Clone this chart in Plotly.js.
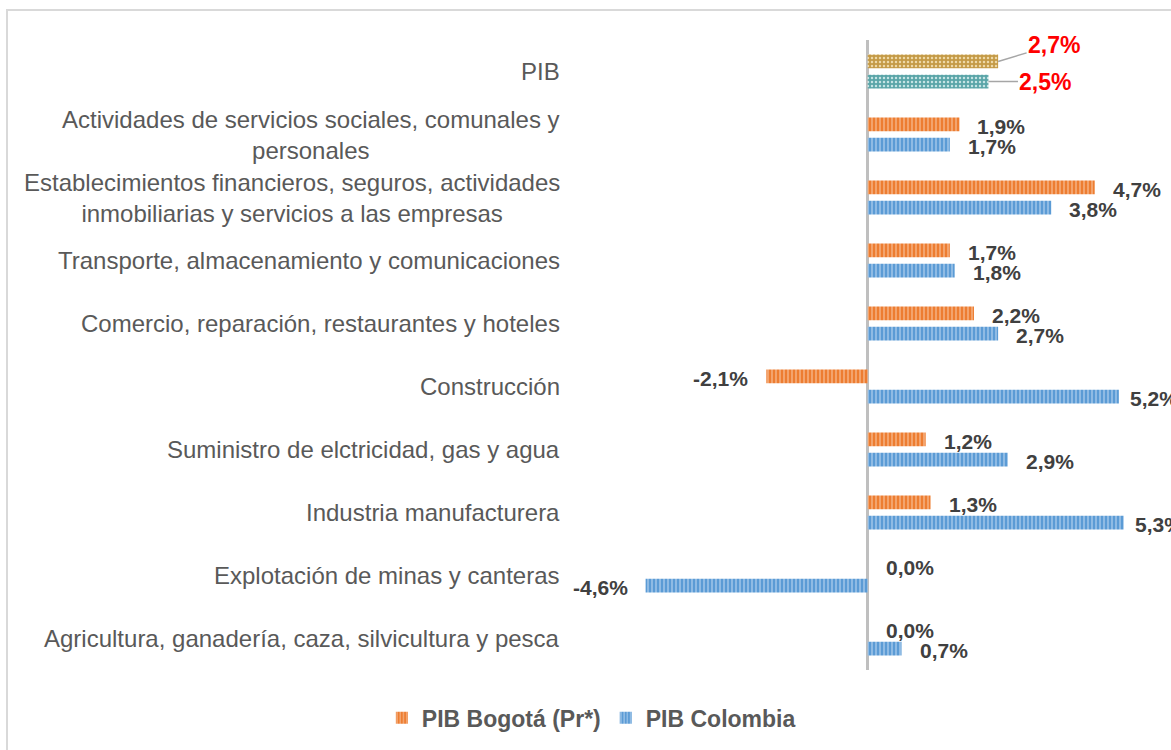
<!DOCTYPE html>
<html>
<head>
<meta charset="utf-8">
<script src="https://cdn.plot.ly/plotly-3.0.1.min.js"></script>
<style>
    body { margin: 0; overflow: hidden; background: #ffffff; }
    #frame { position: absolute; left: 6px; top: 9px; width: 1200px; height: 800px; border: 2px solid #D9D9D9; }
    #plot-container { position: absolute; left: 0; top: 0; width: 1171px; height: 750px; }
</style>
</head>
<body>
<div id="frame"></div>
<div id="plot-container"></div>
<script>
// categories, bottom to top
const categories = [
    'Agricultura, ganadería, caza, silvicultura y pesca',
    'Explotación de minas y canteras',
    'Industria manufacturera',
    'Suministro de elctricidad, gas y agua',
    'Construcción',
    'Comercio, reparación, restaurantes y hoteles',
    'Transporte, almacenamiento y comunicaciones',
    'Establecimientos financieros, seguros, actividades<br>inmobiliarias y servicios a las empresas',
    'Actividades de servicios sociales, comunales y<br>personales',
    'PIB'
];

const bogota = [0.0, 0.0, 1.3, 1.2, -2.1, 2.2, 1.7, 4.7, 1.9, 2.7];
const colombia = [0.7, -4.6, 5.3, 2.9, 5.2, 2.7, 1.8, 3.8, 1.7, 2.5];

const seriesNames = ['PIB Bogotá (Pr*)', 'PIB Colombia'];

const fontFamily = 'Liberation Sans, Arial, sans-serif';

function fmt(v) {
    return v.toFixed(1).replace('.', ',') + '%';
}

document.addEventListener('DOMContentLoaded', () => {
    renderPlot();
});

function makeBar(name, xs, ys, offset, bg, fg, shape, showlegend) {
    return {
        type: 'bar',
        orientation: 'h',
        name: name,
        x: xs,
        y: ys,
        offset: offset,
        width: 0.22,
        showlegend: showlegend,
        marker: {
            color: bg,
            line: { width: 0 },
            pattern: { shape: shape, bgcolor: bg, fgcolor: fg, fgopacity: 1, size: 4, solidity: 0.3 }
        },
        hoverinfo: 'skip'
    };
}

function renderPlot() {
    const container = document.getElementById('plot-container');
    if (!container) return;

    const pibIdx = categories.indexOf('PIB');
    const rest = categories.map((c, i) => i).filter(i => i !== pibIdx);
    const pick = (arr, idx) => idx.map(i => arr[i]);

    // Bogotá sits above the category centre, Colombia below
    const upper = 0.05;
    const lower = -0.27;

    const traces = [
        makeBar(seriesNames[0], pick(bogota, rest), pick(categories, rest), upper, '#ED7D31', '#F7BE96', '|', true),
        makeBar(seriesNames[1], pick(colombia, rest), pick(categories, rest), lower, '#5B9BD5', '#B2D1EE', '|', true),
        makeBar(seriesNames[0], [bogota[pibIdx]], [categories[pibIdx]], upper, '#C49A46', '#EED9A8', '.', false),
        makeBar(seriesNames[1], [colombia[pibIdx]], [categories[pibIdx]], lower, '#5AA5A8', '#C6E4E4', '.', false)
    ];

    const annotations = [];

    // category labels, centred lines, right edge next to the plot
    categories.forEach(c => {
        annotations.push({
            xref: 'paper', x: 0, xanchor: 'right', xshift: -16,
            yref: 'y', y: c, yanchor: 'middle',
            text: c, align: 'center', showarrow: false,
            font: { family: fontFamily, size: 24, color: '#595959' }
        });
    });

    // data labels
    [bogota, colombia].forEach((vals, s) => {
        const yshift = s === 0 ? 8 : -12;
        vals.forEach((v, i) => {
            if (i === pibIdx) return;
            const gap = v > 5 ? 9 : 16;
            annotations.push({
                xref: 'x', x: v, yref: 'y', y: categories[i],
                xanchor: v < 0 ? 'right' : 'left', xshift: v < 0 ? -gap : gap,
                yshift: yshift, yanchor: 'middle',
                text: fmt(v), showarrow: false,
                font: { family: fontFamily, size: 21, color: '#404040', weight: 'bold' }
            });
        });
    });

    // PIB labels with leader lines
    annotations.push({
        xref: 'x', x: bogota[pibIdx], yref: 'y', y: categories[pibIdx], yshift: 10,
        text: '<b>' + fmt(bogota[pibIdx]) + '</b>', showarrow: true,
        arrowhead: 0, arrowwidth: 1.5, arrowcolor: '#A6A6A6', ax: 56, ay: -17,
        font: { family: fontFamily, size: 23, color: '#FF0000' }
    });
    annotations.push({
        xref: 'x', x: colombia[pibIdx], yref: 'y', y: categories[pibIdx], yshift: -10,
        text: '<b>' + fmt(colombia[pibIdx]) + '</b>', showarrow: true,
        arrowhead: 0, arrowwidth: 1.5, arrowcolor: '#A6A6A6', ax: 57, ay: 0,
        font: { family: fontFamily, size: 23, color: '#FF0000' }
    });

    const layout = {
        width: 1171,
        height: 750,
        barmode: 'overlay',
        paper_bgcolor: 'rgba(0,0,0,0)',
        plot_bgcolor: 'rgba(0,0,0,0)',
        margin: { t: 40, r: 0, b: 80, l: 578 },
        font: { family: fontFamily, color: '#595959' },
        xaxis: {
            range: [-6, 6.28],
            showticklabels: false,
            showgrid: false,
            zeroline: true,
            zerolinecolor: '#BFBFBF',
            zerolinewidth: 3,
            fixedrange: true
        },
        yaxis: {
            type: 'category',
            categoryorder: 'array',
            categoryarray: categories,
            range: [-0.5, 9.5],
            showticklabels: false,
            showgrid: false,
            zeroline: false,
            fixedrange: true
        },
        showlegend: true,
        legend: {
            orientation: 'h',
            xref: 'container',
            yref: 'container',
            x: 0.505,
            xanchor: 'center',
            y: 0.043,
            yanchor: 'middle',
            font: { family: fontFamily, size: 23, color: '#595959', weight: 'bold' },
            itemwidth: 30
        },
        annotations: annotations
    };

    Plotly.newPlot(container, traces, layout, { displayModeBar: false, staticPlot: true });
}
</script>
</body>
</html>
